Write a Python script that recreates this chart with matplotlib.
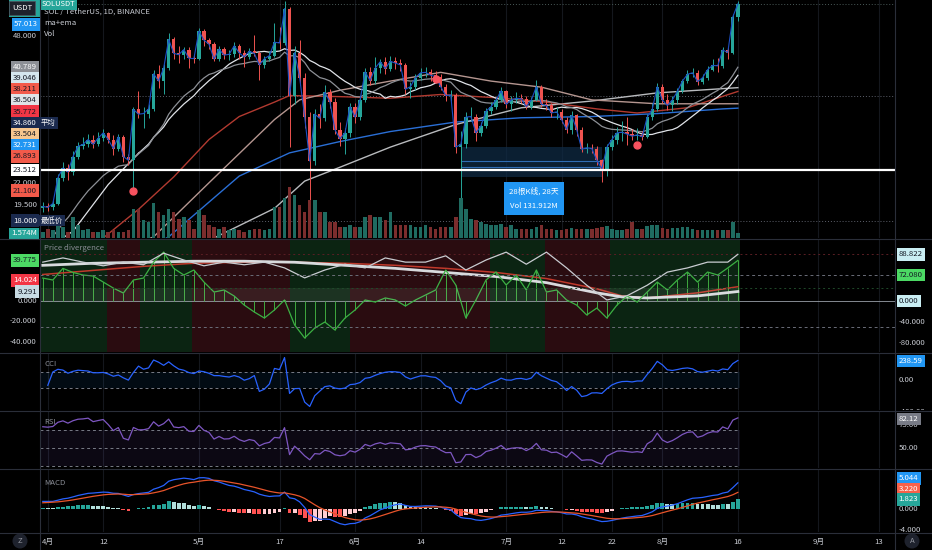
import numpy as np
import pandas as pd
import matplotlib
matplotlib.use('Agg')
import matplotlib.pyplot as plt
from matplotlib.patches import Rectangle, Ellipse

plt.rcParams['font.family'] = ['Liberation Sans Narrow', 'Noto Sans CJK SC', 'DejaVu Sans']

# ---- data ----
start = pd.Timestamp('2021-03-31')
first_open = 19.2
closes = [19.4, 19.3, 19.7, 22.6, 23.8, 23.3, 25.3, 26.7, 27.0, 27.7,
          27.0, 27.9, 28.7, 27.7, 26.4, 28.1, 25.3, 24.8, 32.5, 31.7,
          31.8, 32.6, 39.3, 37.8, 40.5, 47.2, 43.8, 43.5, 44.7, 42.7,
          42.6, 49.3, 47.0, 46.0, 42.5, 44.8, 43.4, 43.6, 45.6, 43.9,
          43.0, 44.3, 43.8, 41.2, 42.6, 43.3, 46.5, 46.3, 55.6, 35.0,
          44.0, 38.5, 31.2, 24.7, 31.7, 31.0, 35.6, 33.9, 29.2, 27.8,
          28.7, 33.0, 31.2, 34.2, 39.7, 37.9, 40.5, 41.9, 40.4, 42.0,
          41.6, 41.2, 36.2, 36.7, 38.5, 39.5, 39.6, 39.0, 38.7, 36.7,
          35.0, 35.1, 26.6, 27.0, 31.2, 31.3, 28.7, 29.8, 32.2, 33.0,
          34.2, 35.9, 33.4, 34.2, 34.5, 34.4, 33.0, 34.2, 36.7, 33.4,
          33.2, 31.9, 32.1, 30.8, 29.2, 31.5, 29.2, 26.3, 26.5, 26.4,
          24.8, 23.7, 26.6, 27.7, 28.7, 28.8, 28.5, 28.2, 28.4, 28.1,
          31.2, 32.5, 36.7, 34.2, 33.2, 34.2, 35.8, 37.8, 39.2, 39.5,
          37.7, 38.5, 40.2, 41.1, 41.0, 44.6, 44.0, 53.2, 57.013]
highs = [19.9, 19.8, 20.1, 23.0, 24.6, 24.3, 26.0, 27.3, 28.0, 28.6,
         28.4, 28.9, 29.3, 28.9, 28.3, 28.6, 28.3, 25.7, 33.0, 35.8,
         33.0, 33.4, 40.0, 41.2, 41.5, 48.7, 47.8, 45.5, 45.3, 45.2,
         43.6, 50.2, 49.8, 47.6, 46.5, 45.6, 45.2, 44.6, 46.5, 46.0,
         44.6, 45.0, 48.2, 44.3, 43.2, 44.3, 51.5, 50.5, 58.0, 56.2,
         45.5, 47.0, 39.5, 32.0, 32.5, 33.5, 37.0, 36.2, 34.5, 30.4,
         29.5, 33.6, 33.6, 34.8, 40.5, 40.7, 43.0, 42.5, 43.0, 43.2,
         43.0, 42.5, 41.6, 37.6, 39.2, 40.5, 40.8, 40.4, 39.8, 39.2,
         37.2, 36.0, 35.5, 29.0, 32.0, 33.0, 31.8, 30.4, 32.7, 33.8,
         34.8, 36.6, 36.1, 35.0, 35.6, 35.2, 34.9, 34.8, 38.0, 37.0,
         34.4, 33.6, 32.9, 32.6, 31.2, 32.3, 31.8, 29.6, 27.2, 27.0,
         26.7, 25.0, 27.1, 28.3, 29.6, 30.5, 31.2, 29.3, 29.4, 29.0,
         31.8, 33.6, 37.5, 37.2, 35.2, 35.0, 36.4, 38.2, 40.0, 40.6,
         40.0, 39.2, 40.9, 42.5, 42.8, 45.4, 45.3, 54.0, 57.8]
lows = [18.8, 18.9, 19.0, 19.5, 22.2, 22.3, 22.9, 25.0, 26.3, 26.6,
        26.5, 26.7, 27.5, 27.2, 25.5, 26.0, 24.6, 24.2, 21.1, 31.0,
        29.5, 31.0, 32.3, 36.5, 35.2, 40.0, 42.5, 41.7, 42.6, 40.5,
        41.6, 42.2, 45.6, 44.8, 42.0, 42.0, 42.5, 42.4, 43.0, 42.6,
        40.8, 42.5, 43.3, 38.0, 40.6, 42.0, 42.9, 44.8, 45.8, 26.6,
        33.5, 37.0, 29.5, 20.0, 24.2, 29.5, 30.5, 32.8, 28.5, 26.8,
        25.6, 28.0, 30.2, 30.8, 33.8, 37.0, 37.2, 39.5, 39.2, 39.8,
        40.4, 39.8, 35.2, 34.5, 36.0, 38.0, 38.6, 37.9, 38.2, 36.0,
        34.0, 34.0, 25.8, 20.2, 26.5, 30.5, 27.5, 28.2, 29.4, 31.8,
        32.6, 33.8, 32.8, 32.3, 33.6, 33.6, 32.5, 32.6, 34.0, 33.0,
        32.4, 31.3, 30.9, 30.2, 28.7, 28.6, 28.2, 25.9, 25.8, 25.8,
        24.2, 22.1, 22.8, 26.2, 27.0, 27.5, 26.9, 27.6, 27.7, 27.6,
        27.9, 30.7, 32.2, 33.6, 32.4, 32.2, 33.5, 35.5, 37.5, 38.6,
        37.0, 37.2, 38.0, 39.8, 39.6, 40.6, 42.5, 43.6, 52.0]
volumes = [2.0, 3.2, 2.6, 4.3, 3.7, 2.0, 7.1, 4.3, 2.6, 3.2,
           2.0, 2.0, 2.6, 2.0, 2.6, 2.0, 2.0, 2.6, 9.7, 10.0,
           6.0, 5.4, 11.7, 8.8, 7.7, 10.0, 8.8, 6.6, 7.1, 6.0,
           3.2, 9.4, 7.7, 4.3, 3.7, 3.2, 3.7, 2.6, 3.2, 2.6,
           2.0, 2.6, 3.2, 3.2, 2.6, 3.2, 10.5, 10.5, 13.4, 17.3,
           14.5, 11.1, 8.8, 12.8, 12.8, 8.8, 8.8, 5.4, 5.4, 3.7,
           3.7, 4.3, 3.7, 3.7, 7.1, 7.7, 7.1, 7.1, 6.0, 8.8,
           4.3, 4.3, 4.3, 4.3, 3.7, 3.7, 4.3, 3.7, 3.2, 3.7,
           3.7, 3.7, 7.1, 13.4, 10.0, 6.6, 6.0, 5.4, 4.9, 4.3,
           4.3, 4.9, 3.7, 4.3, 3.2, 3.2, 3.2, 3.2, 3.7, 4.3,
           3.2, 3.2, 2.6, 2.6, 3.2, 3.4, 3.2, 3.2, 3.2, 3.2,
           3.4, 3.7, 4.0, 3.2, 2.6, 2.6, 3.2, 5.4, 3.2, 3.2,
           4.0, 4.3, 4.3, 3.4, 3.2, 3.4, 3.4, 3.7, 3.7, 3.2,
           2.6, 2.6, 2.6, 2.6, 2.6, 2.6, 2.6, 5.4, 1.574]

# averages: the start of each needs history before the first bar, so
# the early part / the slow ones are read from the chart
ma20_head_days = [0, 6, 13]
ma20_head_vals = [15.3, 17.0, 21.8]
ema20_seed = 15.5
ema100_days = [22, 25, 39, 49, 59, 69, 82, 95, 109, 122, 135, 138]
ema100_vals = [15.8, 16.5, 22.8, 25.8, 27.4, 28.9, 30.4, 31.1, 31.3, 31.8, 32.6, 32.731]
ma100_days = [31, 34, 46, 52, 59, 69, 82, 95, 109, 122, 138]
ma100_vals = [15.6, 16.4, 19.2, 22.2, 23.9, 26.6, 30.0, 32.8, 34.0, 35.5, 36.504]
ema50_days = [9, 12, 19, 26, 33, 39, 46, 49, 59, 69, 79, 90, 100, 110, 118, 128, 138]
ema50_vals = [15.8, 16.4, 19.1, 22.7, 27.7, 31.3, 33.8, 35.0, 34.8, 34.5, 35.2, 34.6, 33.8, 32.6, 31.9, 32.8, 35.772]
ma50_days = [18, 22, 33, 46, 51, 59, 69, 79, 89, 99, 109, 122, 138]
ma50_vals = [15.8, 16.5, 22.0, 30.8, 34.2, 36.0, 37.8, 39.6, 37.8, 36.6, 34.2, 33.5, 33.504]
ema20_last, ma20_last = 40.789, 39.046

# "Price divergence" indicator (every second bar)
green_days = list(range(0, 139, 2))
green_vals = [22.5, 20.6, 32.0, 28.0, 25.5, 24.5, 18.6, 12.7, 7.8, 20.6,
              22.5, 38.0, 48.0, 32.0, 25.5, 30.4, 18.6, 8.8, 10.8, 4.9,
              -4.0, -10.8, -16.7, -8.8, 1.0, -23.5, -36.3, -26.5, -20.6, -28.4,
              -16.7, -8.8, 1.0, -1.0, 3.0, 1.0, -4.9, 1.0, 5.9, 10.8,
              30.4, 15.7, -16.7, 1.0, 20.6, 28.4, 15.7, 25.5, 10.8, 30.4,
              8.8, 10.8, 1.0, -4.0, -13.7, -6.9, -16.7, -4.0, 4.9, -1.0,
              8.8, 18.6, 10.8, 20.6, 28.4, 18.6, 28.4, 25.5, 32.4, 39.775]
white_days = [0, 4, 8, 12, 16, 20, 24, 28, 32, 36, 40, 44, 48, 52, 56, 60, 64, 68,
              72, 76, 80, 84, 88, 92, 96, 100, 104, 108, 112, 116, 120, 124, 128, 132, 136, 138]
white_vals = [74, 82, 74, 67, 74, 69, 91, 78, 67, 74, 69, 74, 63, 44, 59, 70, 63, 82,
              74, 74, 86, 59, 78, 93, 70, 93, 63, 30, 2, 10, 30, 55, 63, 74, 74, 88.822]
slow_days = [0, 10, 20, 30, 40, 50, 60, 70, 80, 90, 100, 110, 115, 120, 130, 138]
slow_white = [35, 37, 38, 39, 39, 38, 35, 32, 28, 24, 18, 8, 4, 3, 5, 9.291]
slow_red = [26, 30, 34, 37, 38, 38, 37, 35, 32, 28, 22, 12, 5, 3, 8, 14.024]
div_level = 72.08
zone_edges = [-0.5, 12.8, 19.3, 29.6, 49.1, 61, 78.9, 88.8, 99.7, 112.6, 138.5]
zone_bull = [True, False, True, False, True, False, False, True, False, True]

# oscillator starting state (history before it is off-chart)
rsi_gain0, rsi_loss0 = 0.9, 0.33
ema12_seed, ema26_seed, signal_seed = 17.8, 16.4, 1.1
cci_last, rsi_last = 238.59, 82.12
macd_last, signal_last, hist_last = 5.044, 3.220, 1.823

marker_days = [18, 78, 118]
marker_vals = [21.1, 38.211, 26.893]
avg_price = 34.860
low_price = 18.000
level_line = 23.512
box_from, box_to = 83, 111
box_top, box_bottom = 26.6, 22.7
box_inner = [24.7, 23.9]

tick_dates = ['2021-04-01', '2021-04-12', '2021-05-01', '2021-05-17', '2021-06-01',
              '2021-06-14', '2021-07-01', '2021-07-12', '2021-07-22', '2021-08-01',
              '2021-08-16', '2021-09-01', '2021-09-13']
tick_texts = ['4月', '12', '5月', '17', '6月', '14', '7月', '12', '22', '8月', '16', '9月', '13']

# ---- derived ----
n = len(closes)
x = np.arange(n)
opens = [first_open] + closes[:-1]
c = pd.Series(closes)
h = pd.Series(highs)
l = pd.Series(lows)


def seeded_ewm(s, seed, **kw):
    return pd.concat([pd.Series([seed]), s], ignore_index=True).ewm(adjust=False, **kw).mean().iloc[1:].reset_index(drop=True)


ma20 = c.rolling(20, min_periods=20).mean()
ema20 = seeded_ewm(c, ema20_seed, span=20)

delta = c - pd.Series(opens)
up = seeded_ewm(delta.clip(lower=0), rsi_gain0, alpha=1 / 14)
dn = seeded_ewm(-delta.clip(upper=0), rsi_loss0, alpha=1 / 14)
rsi = 100 - 100 / (1 + up / dn)
tp = (h + l + c) / 3
tp_ma = tp.rolling(20, min_periods=2).mean()
tp_md = tp.rolling(20, min_periods=2).apply(lambda a: np.mean(np.abs(a - a.mean())), raw=True)
cci = (tp - tp_ma) / (0.015 * tp_md)
macd = seeded_ewm(c, ema12_seed, span=12) - seeded_ewm(c, ema26_seed, span=26)
signal = seeded_ewm(macd, signal_seed, span=9)
hist = macd - signal

BG = '#000000'
TXT = '#c9ccd3'
UP, DN = '#26a69a', '#ef5350'
SEP = '#2a2e39'
FS = 5.6
XL = (-0.55, 169.2)
LAST = (138.5 - XL[0]) / (XL[1] - XL[0])

fig = plt.figure(figsize=(9.32, 5.5), dpi=100, facecolor=BG)


def pane(top, bot):
    a = fig.add_axes([40 / 932, 1 - bot / 550, 855 / 932, (bot - top) / 550])
    a.set_facecolor(BG)
    a.set_xlim(*XL)
    for s in a.spines.values():
        s.set_visible(False)
    a.set_xticks([])
    a.set_yticks([])
    for td in tick_dates:
        a.axvline((pd.Timestamp(td) - start).days, color='#14171d', lw=0.8, zorder=0)
    return a


def twin(a, lim):
    t = a.twinx()
    t.set_ylim(*lim)
    t.axis('off')
    return t


def side(a, left):
    p = a.get_position()
    r = [0, p.y0, 40 / 932, p.height] if left else [895 / 932, p.y0, 37 / 932, p.height]
    s = fig.add_axes(r)
    s.set_yscale(a.get_yscale())
    s.set_ylim(a.get_ylim())
    s.set_xlim(0, 1)
    s.axis('off')
    return s


def spread(ys, gap, mode):
    out = list(ys)
    if mode == 'down':
        for i in range(1, len(out)):
            if out[i - 1] - out[i] < gap:
                out[i] = out[i - 1] - gap
    else:
        for i in range(len(out) - 2, -1, -1):
            if out[i] - out[i + 1] < gap:
                out[i] = out[i + 1] + gap
    return out


def labels(s, items, left, mode='up', gap=11.2):
    pts = sorted([[s.transData.transform((0, it[0]))[1]] + list(it[1:]) for it in items], key=lambda p: -p[0])
    ys = spread([p[0] for p in pts], gap, mode)
    for yd, p in zip(ys, pts):
        txt, bg, fg = p[1:4]
        tag = p[4] if len(p) > 4 else None
        v = s.transData.inverted().transform((0, yd))[1]
        kw = dict(fontsize=FS, color=fg, va='center', clip_on=True, transform=s.get_yaxis_transform(),
                  bbox=dict(boxstyle='square,pad=0.28', fc=bg, ec='none'))
        if left:
            s.text(0.92, v, txt, ha='right', **kw)
        else:
            s.text(0.1, v, txt, ha='left', **kw)
        if tag:
            fy = fig.transFigure.inverted().transform((0, yd))[1]
            fig.text(41 / 932, fy, tag, fontsize=FS - 0.3, color='white', va='center', ha='left',
                     bbox=dict(boxstyle='square,pad=0.25', fc=bg, ec='none'), zorder=9)


def ticks(s, vals, fmt, left):
    for t in vals:
        s.text(0.92 if left else 0.1, t, fmt.format(t), ha='right' if left else 'left', va='center',
               fontsize=FS, color=TXT, transform=s.get_yaxis_transform(), clip_on=True)


# ---- main price pane ----
ax = pane(0, 238)
ax.set_yscale('log')
ax.set_ylim(16.4, 58.2)
ax.yaxis.set_minor_locator(matplotlib.ticker.NullLocator())
ax.set_yticks([])

axv = twin(ax, (0, 80.7))
vcol = ['#1f6b61' if cc >= oo else '#7b2d2d' for oo, cc in zip(opens, closes)]
axv.bar(x, volumes, width=0.7, color=vcol, zorder=1)

ax.plot(ema100_days, ema100_vals, color='#2a6fd6', lw=1, zorder=3)
ax.plot(ma100_days, ma100_vals, color='#b9bbbe', lw=1, zorder=3)
ax.plot(ema50_days, ema50_vals, color='#b23a30', lw=1, zorder=3)
ax.plot(ma50_days, ma50_vals, color='#b59690', lw=1, zorder=3)
ax.plot(ma20_head_days + [19], ma20_head_vals + [ma20.iloc[19]], color='#e0e3e8', lw=0.9, zorder=3)
ax.plot(x, ma20, color='#e0e3e8', lw=0.9, zorder=3)
ax.plot(x, ema20, color='#8d9096', lw=0.9, zorder=3)

ax.axhline(avg_price, color='#5d606b', lw=0.7, ls=(0, (1, 2)), zorder=2)
ax.axhline(low_price, color='#5d606b', lw=0.7, ls=(0, (1, 2)), zorder=2)
ax.axhline(closes[-1], color='#4a5a58', lw=0.7, ls=(0, (1, 2)), zorder=2)

ax.add_patch(Rectangle((box_from, box_bottom), box_to - box_from, box_top - box_bottom,
                       fc='#0f2a44', ec='none', alpha=0.75, zorder=2))
for v in box_inner:
    ax.plot([box_from, box_to], [v, v], color='#2f6db5', lw=0.8, zorder=2)

for i in range(n):
    col = UP if closes[i] >= opens[i] else DN
    ax.vlines(i, lows[i], highs[i], color=col, lw=0.7, zorder=4)
    lo, hi = sorted([opens[i], closes[i]])
    ax.add_patch(Rectangle((i - 0.33, lo), 0.66, max(hi - lo, 0.08), fc=col, ec='none', zorder=5))
ax.plot(x, c, color='#1c4fc4', lw=0.8, zorder=6)
ax.axhline(level_line, color='white', lw=1.6, zorder=6)
ax.plot(marker_days, marker_vals, 'o', color='#f7525f', ms=5, zorder=7)

ax.text((box_from + box_to) / 2 + 0.5, 20.2, '28根K线, 28天\nVol 131.912M', ha='center', va='center',
        fontsize=FS, color='white', linespacing=2.0, zorder=8,
        bbox=dict(boxstyle='square,pad=0.7', fc='#2196f3', ec='none'))

ax.text(0.005, 0.949, 'SOL / TetherUS, 1D, BINANCE', transform=ax.transAxes, fontsize=FS, color=TXT, va='center')
ax.text(0.005, 0.903, 'ma+ema', transform=ax.transAxes, fontsize=FS, color=TXT, va='center')
ax.text(0.005, 0.857, 'Vol', transform=ax.transAxes, fontsize=FS, color=TXT, va='center')
ax.text(0.002, 0.999, 'SOLUSDT', transform=ax.transAxes, fontsize=FS - 0.2, color='white', va='top',
        bbox=dict(boxstyle='square,pad=0.2', fc='#26a69a', ec='none'))

sp = side(ax, True)
ticks(sp, [19.5, 22.0, 48.0], '{:.3f}', True)
labels(sp, [(ema20_last, '40.789', '#8d9096', 'white'),
            (ma20_last, '39.046', '#d4e6ee', '#131722'),
            (marker_vals[1], '38.211', '#f25a4a', '#131722'),
            (ma100_vals[-1], '36.504', '#dfe3e6', '#131722'),
            (ema50_vals[-1], '35.772', '#f23645', '#131722'),
            (avg_price, '34.860', '#1b2a4e', 'white', '平均'),
            (ma50_vals[-1], '33.504', '#f6c68e', '#131722'),
            (ema100_vals[-1], '32.731', '#2196f3', 'white'),
            (marker_vals[2], '26.893', '#f25a4a', '#131722'),
            (level_line, '23.512', 'white', '#131722'),
            (marker_vals[0], '21.100', '#f25a4a', '#131722'),
            (low_price, '18.000', '#1b2a4e', 'white', '最低价')], True, mode='down')
sp.text(0.92, 16.8, '1.574M', ha='right', va='center', fontsize=FS, color='white',
        transform=sp.get_yaxis_transform(), bbox=dict(boxstyle='square,pad=0.25', fc='#26a69a', ec='none'))

# last-price badges in the top-left corner
fig.patches.append(Rectangle((9 / 932, 1 - 17 / 550), 31 / 932, 17 / 550, transform=fig.transFigure,
                             fc='#26a69a', ec='none'))
fig.text(12 / 932, 1 - 8 / 550, 'USDT', ha='left', va='center', fontsize=FS, color='white', zorder=5,
         bbox=dict(boxstyle='square,pad=0.35', fc='#1e222d', ec='#50535e', lw=0.5))
fig.text(38 / 932, 1 - 24.5 / 550, '57.013', ha='right', va='center', fontsize=FS, color='white',
         bbox=dict(boxstyle='square,pad=0.28', fc='#2196f3', ec='none'))

# ---- price divergence pane ----
ad = pane(239, 352)
ad.set_ylim(-50, 60.8)
for i in range(len(zone_bull)):
    ad.axvspan(zone_edges[i], zone_edges[i + 1], color='#0b2412' if zone_bull[i] else '#2a0c10', lw=0, zorder=0)
ad2 = twin(ad, (-97, 118))
ad3 = twin(ad, (-141.3, 171.7))
ad2.axhspan(0, 25, xmax=LAST, color='#ffffff', alpha=0.07, lw=0)
ad2.axhline(white_vals[-1], color='#5a1e24', lw=0.7, ls=(0, (2, 3)))
ad2.axhline(25, color='#1f4a2a', lw=0.7, ls=(0, (2, 3)))
for v in (div_level, -div_level):
    ad3.axhline(v, color='#6a6d78', lw=0.7, ls=(0, (3, 3)))
ad.axhline(0, color='#9aa0a8', lw=0.6)
ad.vlines(green_days, 0, green_vals, color='#3faa3f', lw=0.7)
ad2.plot(white_days, white_vals, color='#c9ccd1', lw=0.9)
ad.plot(slow_days, slow_red, color='#c0392b', lw=1.1)
ad.plot(slow_days, slow_white, color='#d8dadd', lw=2.0)
ad.plot(green_days, green_vals, color='#3cb043', lw=0.9)
ad.text(0.005, 0.9, 'Price divergence', transform=ad.transAxes, fontsize=FS, color='#8a8d96')

sd = side(ad, True)
ticks(sd, [0, -20, -40], '{:.3f}', True)
labels(sd, [(green_vals[-1], '39.775', '#4cd964', '#131722'), (slow_red[-1], '14.024', '#f23645', 'white'),
            (slow_white[-1], '9.291', '#c7dbe3', '#131722')], True)
sd2 = side(ad2, False)
ticks(sd2, [-40, -80], '{:.3f}', False)
labels(sd2, [(white_vals[-1], '88.822', '#c9eef3', '#131722'), (0, '0.000', '#c9eef3', '#131722')], False)
sd3 = side(ad3, False)
labels(sd3, [(div_level, '72.080', '#4cd964', '#131722')], False)

# ---- CCI ----
ac = pane(353, 410)
ac.set_ylim(-375, 337)
ac.axhspan(-100, 100, xmax=LAST, color='#2196f3', alpha=0.08, lw=0)
for v in (100, -100):
    ac.axhline(v, xmax=LAST, color='#787b86', lw=0.7, ls=(0, (3, 3)))
ac.plot(x, cci, color='#2962ff', lw=0.9)
ac.text(0.005, 0.78, 'CCI', transform=ac.transAxes, fontsize=FS, color='#8a8d96')
sc = side(ac, False)
ticks(sc, [0, -400], '{:.2f}', False)
labels(sc, [(cci_last, f'{cci_last:.2f}', '#2196f3', 'white')], False)

# ---- RSI ----
ar = pane(411, 468)
ar.set_ylim(27.9, 90.9)
ar.axhspan(30, 70, xmax=LAST, color='#7e57c2', alpha=0.1, lw=0)
for v in (70, 50, 30):
    ar.axhline(v, xmax=LAST, color='#787b86', lw=0.7, ls=(0, (3, 3)))
ar.plot(x, rsi, color='#7e57c2', lw=0.9)
ar.text(0.005, 0.78, 'RSI', transform=ar.transAxes, fontsize=FS, color='#8a8d96')
sr = side(ar, False)
ticks(sr, [75, 50, 25], '{:.2f}', False)
labels(sr, [(rsi_last, f'{rsi_last:.2f}', '#787b86', 'white')], False)

# ---- MACD ----
am = pane(469, 532)
am.set_ylim(-4.4, 7.6)
hcol = []
for i in range(n):
    prev = hist.iloc[i - 1] if i else 0
    if hist.iloc[i] >= 0:
        hcol.append('#26a69a' if hist.iloc[i] >= prev else '#b2dfdb')
    else:
        hcol.append('#ffcdd2' if hist.iloc[i] >= prev else '#ff5252')
am.bar(x, hist, width=0.75, color=hcol)
am.plot(x, macd, color='#2962ff', lw=0.9)
am.plot(x, signal, color='#e8542a', lw=0.9)
am.text(0.005, 0.74, 'MACD', transform=am.transAxes, fontsize=FS, color='#8a8d96')
sm = side(am, False)
ticks(sm, [0, -4], '{:.3f}', False)
labels(sm, [(macd_last, f'{macd_last:.3f}', '#2196f3', 'white'),
            (signal_last, f'{signal_last:.3f}', '#f7614a', 'white'),
            (hist_last, f'{hist_last:.3f}', '#26a69a', 'white')], False, gap=10.5)

# time axis
for td, tt in zip(tick_dates, tick_texts):
    am.text((pd.Timestamp(td) - start).days, -0.16, tt, transform=am.get_xaxis_transform(),
            ha='center', va='center', fontsize=FS, color=TXT, clip_on=False)

# separators and corner buttons
for yy in (238.5, 352.5, 410.5, 468.5, 532.5):
    fig.add_artist(plt.Line2D([0, 1], [1 - yy / 550] * 2, color=SEP, lw=0.8))
for xx in (40, 895):
    fig.add_artist(plt.Line2D([xx / 932] * 2, [0, 1], color=SEP, lw=0.8))
for xx, tt in ((20, 'Z'), (912, 'A')):
    fig.add_artist(Ellipse((xx / 932, 9 / 550), 15 / 932, 15 / 550, fc='#1e222d', ec='none'))
    fig.text(xx / 932, 9 / 550, tt, ha='center', va='center', fontsize=FS, color='#9598a1')

fig.savefig('out.png', dpi=100, facecolor=BG)
